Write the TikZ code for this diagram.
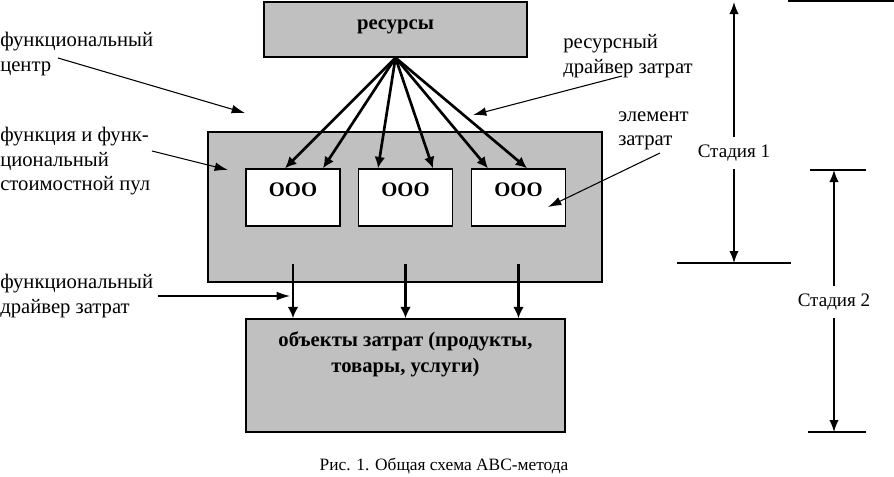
\documentclass[tikz,border=0pt]{standalone}
\usepackage{fontspec}
\setmainfont{Liberation Serif}
\usetikzlibrary{arrows.meta, positioning}
\definecolor{boxgray}{HTML}{C0C0C0}
\tikzset{
box/.style={draw, line width=1.1pt, fill=boxgray}, % grey blocks
boldtext/.style={font=\fontsize{15.5}{19.5}\selectfont\bfseries},
cell/.style={draw, line width=1.1pt, fill=white, minimum width=70.5pt, minimum height=42.75pt, boldtext, text height=10pt, text depth=11pt}, % white element boxes
note/.style={align=left, inner sep=0pt, anchor=north west}, % side captions
flow/.style={-{Latex[length=8.5pt,width=8pt]}, line width=2pt},
pointer/.style={-{Latex[length=10pt,width=6.5pt]}, line width=0.8pt},
stage/.style={-{Latex[length=9pt,width=7pt]}, line width=1pt},
stagelabel/.style={inner xsep=2pt, inner ysep=6pt, font=\fontsize{14.3}{17}\selectfont},
}

\begin{document}
\begin{tikzpicture}[x=0.75pt, y=-0.75pt, font=\fontsize{15.5}{18.5}\selectfont]
    \useasboundingbox (0,0) rectangle (894,476);
    % blocks
    \node[box, minimum width=197.25pt, minimum height=41.25pt, boldtext, text height=10pt, text depth=10pt] (res) at (395.5,29.5) {ресурсы};
    \node[box, minimum width=295.5pt, minimum height=112.5pt] (pool) at (405,207) {};
    \node[cell] (c1) at (293,197.5) {ООО};
    \node[cell] (c2) at (405.5,197.5) {ООО};
    \node[cell] (c3) at (518.5,197.5) {ООО};
    \node[box, minimum width=239.25pt, minimum height=84.75pt] (obj) at (405.5,375.5) {};
    \node[below=10pt of obj.north, boldtext, align=center, inner sep=0pt] (objtext) {объекты затрат (продукты,\\товары, услуги)};
    % resource drivers
    \foreach \c/\dx in {c1/-6pt, c1/22.5pt, c2/-20.6pt, c2/20.6pt, c3/-22.9pt, c3/6.4pt}
        \draw[flow] (res.south) -- ([xshift=\dx]\c.north);
    % activity drivers
    \foreach \c in {c1,c2,c3}
        \draw[flow] ([yshift=-27.75pt]\c.south) -- (\c.south |- obj.north);
    % captions on the left
    \node[note] (ncenter) at (0,32) {функциональный\\центр};
    \coordinate (ncenterfrom) at (58,58);
    \coordinate (ncenterto) at (245,113);
    \draw[pointer] (ncenterfrom) -- (ncenterto);
    \node[note] (npool) at (0,127) {функция и функ-\\циональный\\стоимостной пул};
    \coordinate (npoolfrom) at (152,151);
    \coordinate (npoolto) at (228,170);
    \draw[pointer] (npoolfrom) -- (npoolto);
    \node[note] (ndriver) at (0,274) {функциональный\\драйвер затрат};
    \coordinate (ndriverfrom) at (158,296);
    \coordinate (ndriverto) at (290,296);
    \draw[pointer] (ndriverfrom) -- (ndriverto);
    % captions on the right
    \node[note] (nres) at (563,34) {ресурсный\\драйвер затрат};
    \coordinate (nresfrom) at (622,76);
    \coordinate (nresto) at (473,115);
    \draw[pointer] (nresfrom) -- (nresto);
    \node[note] (nelem) at (618,111) {элемент\\затрат};
    \coordinate (nelemfrom) at (660,153);
    \coordinate (nelemto) at (548,207);
    \draw[pointer] (nelemfrom) -- (nelemto);
    % stages
    \node[stagelabel] (st1) at (734,153) {Стадия 1};
    \coordinate (st1top) at (734,2);
    \coordinate (st1bot) at (734,263);
    \draw[stage] (st1) -- (st1top);
    \draw[stage] (st1) -- (st1bot);
    \node[stagelabel] (st2) at (834,302) {Стадия 2};
    \coordinate (st2top) at (834,170);
    \coordinate (st2bot) at (834,432);
    \draw[stage] (st2) -- (st2top);
    \draw[stage] (st2) -- (st2bot);
    \draw[line width=1pt] (788,1) -- (894,1);
    \draw[line width=1pt] (st1bot) ++(-57,0) -- ++(114,0);
    \draw[line width=1pt] (st2top) ++(-24,0) -- ++(56,0);
    \draw[line width=1pt] (st2bot) ++(-26,0) -- ++(58,0);
    % figure caption
    \node[font=\fontsize{13}{15}\selectfont] (caption) at (444,466) {Рис. 1. Общая схема ABC-метода};
\end{tikzpicture}
\end{document}
